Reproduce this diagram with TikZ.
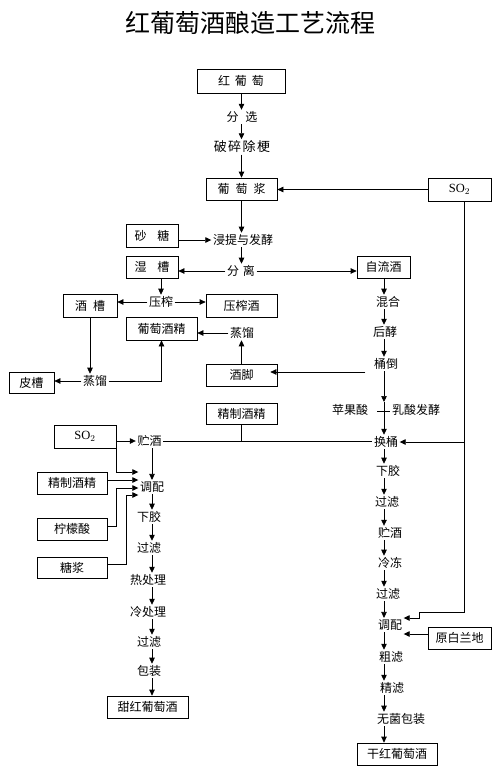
\documentclass[tikz,border=0pt]{standalone}
\usepackage{fontspec}
\setmainfont{Liberation Serif}
\newfontfamily\cjk{Noto Sans CJK SC}
\usetikzlibrary{arrows.meta}
\begin{document}
\begin{tikzpicture}[x=1pt,y=-1pt,
  box/.style={draw, line width=0.7pt, inner sep=0pt, font=\cjk\fontsize{12}{14}\selectfont, minimum height=22pt},
  lab/.style={inner sep=1.5pt, font=\cjk\fontsize{12}{14}\selectfont},
  sofont/.style={font=\fontsize{12.5}{14}\selectfont},
  arr/.style={line width=0.7pt, -{Triangle[length=6pt,width=5.5pt]}},
  ln/.style={line width=0.7pt}]
\useasboundingbox (0,0) rectangle (500,766);
\coordinate (colM) at (241.5,0);
\coordinate (colL) at (152,0);
\coordinate (colR) at (384,0);

\node[font=\cjk\fontsize{25}{28}\selectfont] (title) at (250,23) {红葡萄酒酿造工艺流程};

% main column
\node[box,minimum width=88pt,minimum height=24pt] (hong) at (241,81) {红\hspace{5pt}葡\hspace{5pt}萄};
\node[lab] (fenxuan) at (242,117) {分\hspace{7pt}选};
\node[lab,font=\cjk\fontsize{13}{15}\selectfont] (posui) at (242,147) {破\hspace{1.5pt}碎\hspace{1.5pt}除\hspace{1.5pt}梗};
\node[box,minimum width=71pt] (jiang) at (241.5,189) {葡\hspace{6pt}萄\hspace{6pt}浆};
\node[box,sofont,minimum width=63pt,minimum height=23pt] (so2a) at (459.5,189.5) {SO$_2$};
\node[lab] (jinti) at (243,240) {浸提与发酵};
\node[box,minimum width=52pt,minimum height=23pt] (shatang) at (152,235.5) {砂\hspace{11pt}糖};
\node[lab] (fenli) at (241,271) {分\hspace{4pt}离};
\node[box,minimum width=52pt] (shicao) at (152,267) {湿\hspace{11pt}槽};
\node[box,minimum width=53pt] (zlj) at (383.5,267) {自流酒};
\node[lab] (yazha) at (161,302) {压榨};
\node[box,minimum width=54pt,minimum height=23pt] (jiucao) at (90,305.5) {酒\hspace{6pt}槽};
\node[box,minimum width=71pt,minimum height=23pt] (yzj) at (241.5,305.5) {压榨酒};
\node[box,minimum width=71pt,minimum height=23pt] (ptjj) at (161.5,328.5) {葡萄酒精};
\node[lab] (zl1) at (242,333) {蒸馏};
\node[box,minimum width=71pt] (jiujiao) at (241.5,375) {酒脚};
\node[lab] (zl2) at (95,381) {蒸馏};
\node[box,minimum width=45pt,minimum height=21pt] (picao) at (31.5,382.5) {皮槽};

% right column
\node[lab] (hunhe) at (388,302) {混合};
\node[lab] (houjiao) at (385,332) {后酵};
\node[lab] (tongdao) at (386,364) {桶倒};
\node[lab] (pgs) at (350,410) {苹果酸};
\node[lab] (rsfj) at (416,410) {乳酸发酵};
\node[lab] (huantong) at (386,442) {换桶};
\node[lab] (xiajiao2) at (388,471) {下胶};
\node[lab] (guolv2) at (387,502) {过滤};
\node[lab] (zhujiu2) at (390,533) {贮酒};
\node[lab] (lengdong) at (390,563) {冷冻};
\node[lab] (guolv3) at (388,594) {过滤};
\node[lab] (tiaopei2) at (390,625) {调配};
\node[lab] (culv) at (391,657) {粗滤};
\node[lab] (jinglv) at (392,688) {精滤};
\node[lab] (wujun) at (401,719) {无菌包装};
\node[box,minimum width=80pt] (ganhong) at (397,754) {干红葡萄酒};
\node[box,minimum width=63pt] (ybld) at (459.5,638) {原白兰地};

% left lower column
\node[box,minimum width=71pt,minimum height=21pt] (jzjj1) at (241.5,413.5) {精制酒精};
\node[box,sofont,minimum width=62pt,minimum height=23pt] (so2b) at (85,436.5) {SO$_2$};
\node[lab] (zhujiu1) at (149.5,441) {贮酒};
\node[lab] (tiaopei1) at (152,487) {调配};
\node[box,minimum width=70pt] (jzjj2) at (72,483) {精制酒精};
\node[box,minimum width=70pt] (nmsuan) at (72,529) {柠檬酸};
\node[box,minimum width=70pt,minimum height=21pt] (tangjiang) at (72,567.5) {糖浆};
\node[lab] (xiajiao1) at (149,517) {下胶};
\node[lab] (guolv1) at (149,548) {过滤};
\node[lab] (rechuli) at (148,580) {热处理};
\node[lab] (lengchuli) at (148,612) {冷处理};
\node[lab] (guolv4) at (149,642) {过滤};
\node[lab] (baozhuang) at (149,671) {包装};
\node[box,minimum width=81pt] (tianhong) at (147.5,707) {甜红葡萄酒};

% ---- connectors: main column
\draw[arr] (hong.south -| colM) -- (fenxuan.north -| colM);
\draw[arr] (fenxuan.south -| colM) -- (posui.north -| colM);
\draw[arr] (posui.south -| colM) -- (jiang.north -| colM);
\draw[arr] (jiang.south -| colM) -- (jinti.north -| colM);
\draw[arr] (jinti.south -| colM) -- (fenli.north -| colM);
\draw[arr] (so2a.west) -- (so2a.west -| jiang.east);
\draw[arr] (jinti.west -| shatang.east) -- (jinti.west);
\draw[arr] (fenli.west) -- (fenli.west -| shicao.east);
\draw[arr] (fenli.east) -- (fenli.east -| zlj.west);
\draw[arr] (yazha.north |- shicao.south) -- (yazha.north);
\draw[arr] (yazha.west) -- (yazha.west -| jiucao.east);
\draw[arr] (yazha.east) -- (yazha.east -| yzj.west);
\draw[arr] (jiucao.south) -- (jiucao.south |- zl2.north);
\draw[arr] (zl2.west) -- (zl2.west -| picao.east);
\draw[arr] (zl2.east) -| (ptjj.south);
\draw[arr] (jiujiao.north -| colM) -- (zl1.south -| colM);
\draw[arr] (zl1.west) -- (zl1.west -| ptjj.east);
\draw[arr] ([xshift=-7pt,yshift=-8pt]tongdao.west) -- ([xshift=-7pt,yshift=-8pt]tongdao.west -| jiujiao.east);

% ---- right column
\coordinate (cross) at (384,411);
\draw[arr] (zlj.south -| colR) -- (hunhe.north -| colR);
\draw[arr] (hunhe.south -| colR) -- (houjiao.north -| colR);
\draw[arr] (houjiao.south -| colR) -- (tongdao.north -| colR);
\draw[arr] (tongdao.south -| colR) -- ([yshift=9pt]cross);
\draw[arr] ([yshift=9pt]cross) -- (huantong.north -| colR);
\draw[ln] ([xshift=-7pt]cross) -- (rsfj.west |- cross);
\draw[arr] (huantong.south -| colR) -- (xiajiao2.north -| colR);
\draw[arr] (xiajiao2.south -| colR) -- (guolv2.north -| colR);
\draw[arr] (guolv2.south -| colR) -- (zhujiu2.north -| colR);
\draw[arr] (zhujiu2.south -| colR) -- (lengdong.north -| colR);
\draw[arr] (lengdong.south -| colR) -- (guolv3.north -| colR);
\draw[arr] (guolv3.south -| colR) -- (tiaopei2.north -| colR);
\draw[arr] (tiaopei2.south -| colR) -- (culv.north -| colR);
\draw[arr] (culv.south -| colR) -- (jinglv.north -| colR);
\draw[arr] (jinglv.south -| colR) -- (wujun.north -| colR);
\draw[arr] (wujun.south -| colR) -- (ganhong.north -| colR);

% SO2 feed line on the right
\coordinate (rl) at ([xshift=4.5pt]so2a.south);
\coordinate (e1) at (419,612);
\draw[arr] (rl) |- (e1) |- ([yshift=7pt]tiaopei2.east);
\draw[arr] (rl |- huantong.east) -- (huantong.east);
\coordinate (t2b) at ([yshift=-9pt]tiaopei2.east);
\draw[arr] (t2b -| ybld.west) -- (t2b);

% storage line
\draw[ln] (zhujiu1.east) -- (zhujiu1.east -| huantong.west);
\draw[ln] (jzjj1.south) -- (jzjj1.south |- zhujiu1.east);

% ---- left lower column
\draw[arr] (zhujiu1.west -| so2b.east) -- (zhujiu1.west);
\draw[arr] (zhujiu1.south -| colL) -- (tiaopei1.north -| colL);
\draw[arr] (so2b.south east) |- ([yshift=15pt]tiaopei1.west);
\draw[arr] ([yshift=7pt]tiaopei1.west -| jzjj2.east) -- ([yshift=7pt]tiaopei1.west);
\draw[arr] ([yshift=3pt]nmsuan.east) -- ++(9pt,0) |- ([yshift=-1pt]tiaopei1.west);
\draw[arr] ([yshift=3.5pt]tangjiang.east) -- ++(19pt,0) |- ([yshift=-8pt]tiaopei1.west);
\draw[arr] (tiaopei1.south -| colL) -- (xiajiao1.north -| colL);
\draw[arr] (xiajiao1.south -| colL) -- (guolv1.north -| colL);
\draw[arr] (guolv1.south -| colL) -- (rechuli.north -| colL);
\draw[arr] (rechuli.south -| colL) -- (lengchuli.north -| colL);
\draw[arr] (lengchuli.south -| colL) -- (guolv4.north -| colL);
\draw[arr] (guolv4.south -| colL) -- (baozhuang.north -| colL);
\draw[arr] (baozhuang.south -| colL) -- (tianhong.north -| colL);
\end{tikzpicture}
\end{document}
